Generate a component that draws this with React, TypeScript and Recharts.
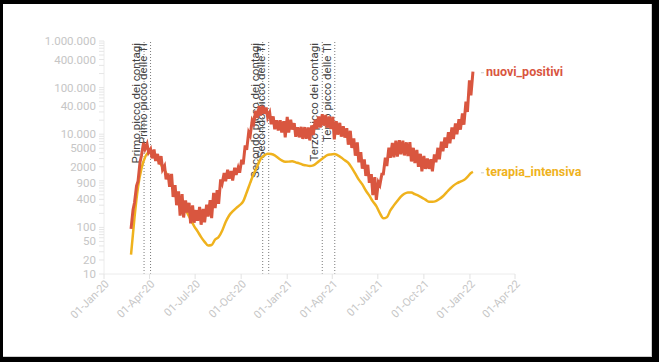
import React from 'react';
import { LineChart, Line, XAxis, YAxis, ReferenceLine } from 'recharts';

const DAY = 86400000;
const weekStart = '2020-02-24';

// nuovi_positivi: weekly low (Monday) and weekly high (Friday)
const positiviLow = [
  93, 342, 977, 3526, 4789, 4050, 3039, 2667, 2256, 1739,
  1075, 744, 451, 300, 178, 163, 210, 122, 126, 138,
  114, 129, 170, 159, 259, 320, 878, 978, 1108, 1008,
  1350, 1494, 2257, 4619, 9338, 17012, 22253, 25271, 27354, 22930,
  16377, 12756, 12030, 10872, 8585, 10800, 12545, 8825, 8561, 7925,
  7970, 7351, 9630, 13114, 13902, 15267, 13846, 12916, 7767, 9789,
  8864, 8444, 5948, 5080, 3455, 2490, 1820, 1273, 907, 495,
  389, 808, 1400, 2072, 3117, 3190, 3300, 3700, 3500, 3400,
  2600, 2400, 2000, 1600, 1800, 1800, 1600, 2500, 2900, 4300,
  5100, 6400, 7900, 10000, 12500, 16000, 30000, 68000,
];
const positiviHigh = [
  240, 778, 2547, 6557, 6153, 4805, 4694, 3786, 3370, 2086,
  1444, 1402, 813, 593, 518, 379, 338, 296, 235, 276,
  249, 306, 386, 552, 629, 1071, 1462, 1733, 1616, 1907,
  1912, 2844, 5724, 10925, 19644, 31758, 39811, 40902, 37242, 29003,
  24099, 19903, 19974, 19037, 23477, 20331, 17246, 14078, 14372, 14218,
  13908, 15479, 20499, 24036, 26824, 25735, 24076, 23649, 18938, 17567,
  14761, 13446, 11807, 8085, 6659, 4147, 2884, 2199, 1390, 1197,
  932, 1390, 3121, 5140, 6513, 7230, 7409, 7264, 6700, 6761,
  5100, 4600, 3800, 3400, 3000, 2900, 3700, 5100, 6900, 8500,
  11000, 14000, 17000, 21000, 28000, 50000, 144000, 219000,
];
// terapia_intensiva: weekly (Monday) values
const terapiaIntensiva = [
  26, 166, 733, 1851, 3204, 3981, 3898, 3260, 2573, 1956,
  1479, 999, 749, 541, 408, 283, 207, 148, 107, 82,
  62, 49, 41, 42, 55, 62, 85, 130, 180, 220,
  260, 300, 360, 560, 900, 1411, 2022, 2971, 3492, 3810,
  3744, 3517, 3095, 2743, 2565, 2579, 2615, 2487, 2372, 2214,
  2143, 2074, 2146, 2411, 2756, 3157, 3546, 3681, 3743, 3526,
  3151, 2748, 2423, 1894, 1427, 1061, 836, 620, 482, 362,
  287, 203, 157, 165, 232, 297, 371, 458, 527, 563,
  558, 517, 479, 436, 394, 357, 355, 366, 406, 466,
  560, 671, 788, 887, 962, 1038, 1215, 1467,
];
const terapiaLastDate = '2022-01-07';
const terapiaLastValue = 1558;

const xTickDates = [
  '2020-01-01', '2020-04-01', '2020-07-01', '2020-10-01', '2021-01-01',
  '2021-04-01', '2021-07-01', '2021-10-01', '2022-01-01', '2022-04-01',
];
const xTickLabels = [
  '01-Jan-20', '01-Apr-20', '01-Jul-20', '01-Oct-20', '01-Jan-21',
  '01-Apr-21', '01-Jul-21', '01-Oct-21', '01-Jan-22', '01-Apr-22',
];

const yTickValues = [10, 20, 50, 100, 400, 900, 2000, 5000, 10000, 40000, 100000, 400000, 1000000];
const yTickLabels = ['10', '20', '50', '100', '400', '900', '2000', '5000', '10.000', '40.000', '100.000', '400.000', '1.000.000'];
const yMinorTicks = [
  10, 20, 30, 40, 50, 60, 70, 80, 90,
  100, 200, 300, 400, 500, 600, 700, 800, 900,
  1000, 2000, 3000, 4000, 5000, 6000, 7000, 8000, 9000,
  10000, 20000, 30000, 40000, 50000, 60000, 70000, 80000, 90000,
  100000, 200000, 300000, 400000, 500000, 600000, 700000, 800000, 900000,
  1000000,
];

const peakDates = ['2020-03-21', '2020-04-03', '2020-11-13', '2020-11-25', '2021-03-12', '2021-04-06'];
const peakLabels = [
  'Primo picco dei contagi', 'Primo picco delle TI',
  'Secondo picco dei contagi', 'Secondo picco delle TI',
  'Terzo picco dei contagi', 'Terzo picco delle TI',
];

const RED = '#d9563f';
const YELLOW = '#efb21d';
const FONT = 'Roboto, "Noto Sans", sans-serif';

const t0 = Date.parse(weekStart);
const redData: { t: number; v: number }[] = [];
positiviLow.forEach((lo, i) => {
  redData.push({ t: t0 + 7 * i * DAY, v: lo });
  redData.push({ t: t0 + (7 * i + 4) * DAY, v: positiviHigh[i] });
});
const yellowData: { t: number; v: number }[] = terapiaIntensiva.map((v, i) => ({ t: t0 + 7 * i * DAY, v }));
yellowData.push({ t: Date.parse(terapiaLastDate), v: terapiaLastValue });

const xTicks = xTickDates.map((d) => Date.parse(d));
const xLabelMap: Record<number, string> = {};
xTicks.forEach((t, i) => (xLabelMap[t] = xTickLabels[i]));
const yLabelMap: Record<number, string> = {};
yTickValues.forEach((v, i) => (yLabelMap[v] = yTickLabels[i]));

const XTick = (props: any) => {
  const { x, y, payload } = props;
  return (
    <g transform={`translate(${x + 3},${y + 1})`}>
      <text textAnchor="end" transform="rotate(-45)" dy="0.35em" fontSize={11} fill="#c6c6c6" fontFamily={FONT}>
        {xLabelMap[payload.value]}
      </text>
    </g>
  );
};

const YTick = (props: any) => {
  const { x, y, payload } = props;
  const label = yLabelMap[payload.value];
  if (!label) return <g />;
  return (
    <text x={x} y={y} dy="0.35em" textAnchor="end" fontSize={11.5} fill="#c6c6c6" fontFamily={FONT}>
      {label}
    </text>
  );
};

const makePeakLabel = (text: string) => (props: any) => {
  const vb = props.viewBox || {};
  const x = vb.x - 4;
  const y = vb.y + 2;
  return (
    <text transform={`translate(${x},${y}) rotate(-90)`} textAnchor="end" fontSize={11.5} fill="#444" fontFamily={FONT}>
      {text}
    </text>
  );
};

const makeEndLabel = (count: number, text: string, color: string) => (props: any) => {
  const { x, y, index } = props;
  if (index !== count - 1) return <g key={`e${index}`} />;
  return (
    <g key={`e${index}`}>
      <line x1={x + 8} x2={x + 11} y1={y + 1} y2={y + 1} stroke="#c9c9c9" strokeWidth={1} />
      <text x={x + 13} y={y} dy="0.35em" fontSize={12.5} fontWeight={700} fill={color} fontFamily={FONT}>
        {text}
      </text>
    </g>
  );
};

export default function App() {
  return (
    <div style={{ position: 'absolute', left: 0, top: 0, width: 659, height: 362, background: '#000' }}>
      <div
        style={{
          position: 'absolute', left: 3, top: 4, width: 648, height: 352, background: '#fff',
          borderRight: '1px solid #cfcfcf', borderBottom: '1px solid #cfcfcf',
        }}
      />
      <div style={{ position: 'absolute', left: 0, top: 0 }}>
        <LineChart width={659} height={362} margin={{ top: 41, right: 144, bottom: 0, left: 0 }}>
          <XAxis
            dataKey="t"
            type="number"
            domain={[xTicks[0], xTicks[xTicks.length - 1]]}
            ticks={xTicks}
            interval={0}
            allowDataOverflow
            height={88}
            tick={<XTick />}
            tickSize={5}
            tickLine={{ stroke: '#e2e2e2' }}
            axisLine={{ stroke: '#ececec' }}
          />
          <YAxis
            dataKey="v"
            type="number"
            scale="log"
            domain={[10, 1000000]}
            ticks={yMinorTicks}
            interval={0}
            allowDataOverflow
            width={104}
            tick={<YTick />}
            tickSize={5}
            tickMargin={3}
            tickLine={{ stroke: '#e6e6e6' }}
            axisLine={{ stroke: '#ececec' }}
          />
          {peakDates.map((d, i) => (
            <ReferenceLine
              key={d}
              x={Date.parse(d)}
              stroke="#7a7a7a"
              strokeDasharray="1 2"
              strokeWidth={1}
              label={makePeakLabel(peakLabels[i])}
            />
          ))}
          <Line
            data={yellowData}
            dataKey="v"
            type="monotone"
            stroke={YELLOW}
            strokeWidth={2.5}
            dot={false}
            isAnimationActive={false}
            label={makeEndLabel(yellowData.length, 'terapia_intensiva', YELLOW)}
          />
          <Line
            data={redData}
            dataKey="v"
            type="linear"
            stroke={RED}
            strokeWidth={3}
            dot={false}
            isAnimationActive={false}
            label={makeEndLabel(redData.length, 'nuovi_positivi', RED)}
          />
        </LineChart>
      </div>
    </div>
  );
}
